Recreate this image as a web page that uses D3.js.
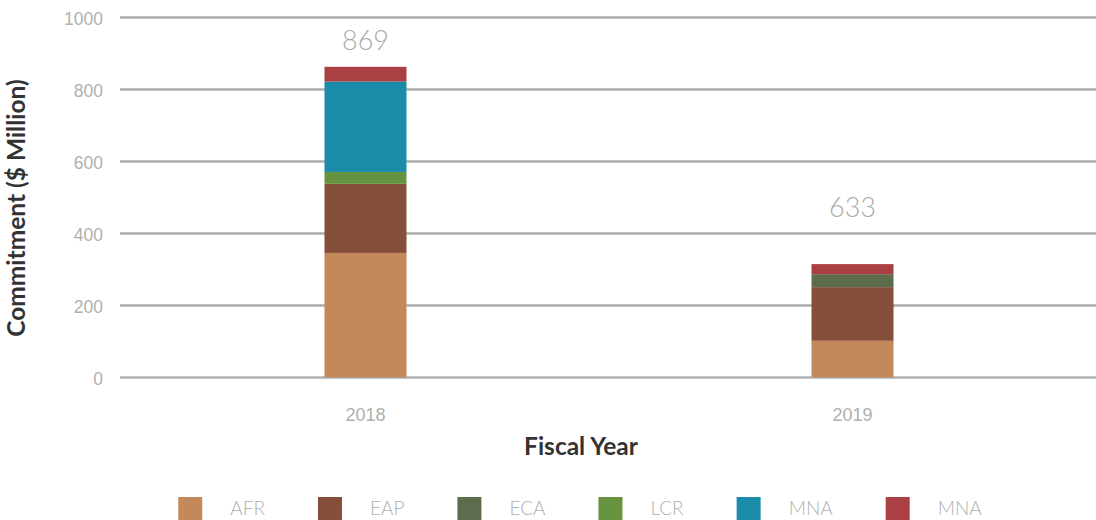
<!DOCTYPE html>
<html>
<head>
<meta charset="utf-8">
<script src="https://cdn.jsdelivr.net/npm/d3@7"></script>
<style>
  html, body { margin: 0; padding: 0; background: #fff; }
  svg { display: block; font-family: Lato, "Open Sans", sans-serif; }
</style>
</head>
<body>
<svg id="chart" width="1096" height="520"></svg>
<script>
// ---- data ----
const years = ["2018", "2019"];
const regions = ["AFR", "EAP", "ECA", "LCR", "MNA", "MNA2"];
const regionLabels = ["AFR", "EAP", "ECA", "LCR", "MNA", "MNA"];
const regionColors = ["#C4895B", "#854F3A", "#5E6C4E", "#66943E", "#1B8BAA", "#AA3F44"];
const afr  = [346, 102];
const eap  = [192, 149];
const eca  = [0, 36];
const lcr  = [33, 0];
const mna  = [251, 0];
const mna2 = [41, 28];
const totalLabels = ["869", "633"];
const totalLabelLevels = [910, 446];
const yTicks = [0, 200, 400, 600, 800, 1000];

// ---- build table ----
const seriesValues = [afr, eap, eca, lcr, mna, mna2];
const table = years.map((yr, i) => {
  const row = { year: yr };
  regions.forEach((r, k) => { row[r] = seriesValues[k][i]; });
  return row;
});

const svg = d3.select("#chart");
const W = 1096;
const plot = { left: 122, right: 1096, top: 17.5, bottom: 377.5 };

const x = d3.scaleBand().domain(years).range([plot.left, plot.right]).paddingInner(0).paddingOuter(0);
const y = d3.scaleLinear().domain([0, 1000]).range([plot.bottom, plot.top]);
const color = d3.scaleOrdinal().domain(regions).range(regionColors);

// gridlines
svg.append("g").selectAll("line").data(yTicks).join("line")
  .attr("x1", plot.left - 2).attr("x2", W)
  .attr("y1", d => y(d)).attr("y2", d => y(d))
  .attr("stroke", d => d === 0 ? "#AEB2B4" : "#ADADAD")
  .attr("stroke-width", 2.5);

// y axis labels
const yAxis = d3.axisLeft(y).tickValues(yTicks).tickSize(0).tickPadding(0).tickFormat(d3.format("d"));
const gy = svg.append("g").attr("transform", `translate(${103},0)`).call(yAxis);
gy.select(".domain").remove();
gy.selectAll("text").attr("fill", "#B0B0B0").style("font-size", "17.5px").style("font-weight", 300)
  .attr("dy", "0.4em");

// x axis labels
const xAxis = d3.axisBottom(x).tickSize(0).tickPadding(0);
const gx = svg.append("g").attr("transform", `translate(0,${404})`).call(xAxis);
gx.select(".domain").remove();
gx.selectAll("text").attr("fill", "#B0B0B0").style("font-size", "18px").style("font-weight", 300)
  .attr("dy", "0.95em");

// stacked bars
const stack = d3.stack().keys(regions);
const layers = stack(table);
const barW = 82;
svg.append("g").selectAll("g").data(layers).join("g")
  .attr("fill", d => color(d.key))
  .selectAll("rect").data(d => d).join("rect")
  .attr("x", d => x(d.data.year) + x.bandwidth() / 2 - barW / 2)
  .attr("width", barW)
  .attr("y", d => y(d[1]))
  .attr("height", d => Math.max(0, y(d[0]) - y(d[1])));

// total labels
svg.append("g").selectAll("text").data(years).join("text")
  .attr("x", d => x(d) + x.bandwidth() / 2)
  .attr("y", (d, i) => y(totalLabelLevels[i]))
  .attr("text-anchor", "middle")
  .attr("fill", "#A9A9A9")
  .style("font-size", "27px").style("font-weight", 300)
  .text((d, i) => totalLabels[i]);

// axis titles
svg.append("text")
  .attr("transform", `translate(${25},${208}) rotate(-90)`)
  .attr("text-anchor", "middle")
  .attr("fill", "#333333")
  .style("font-size", "24.5px").style("font-weight", 700)
  .text("Commitment ($ Million)");

svg.append("text")
  .attr("x", 581).attr("y", 455)
  .attr("text-anchor", "middle")
  .attr("fill", "#333333")
  .style("font-size", "24.5px").style("font-weight", 700)
  .text("Fiscal Year");

// legend
const legend = svg.append("g");
const items = legend.selectAll("g").data(regions).join("g");
items.append("rect").attr("width", 24).attr("height", 23).attr("y", 497)
  .attr("fill", d => color(d));
items.append("text").attr("x", 52).attr("y", 515)
  .attr("fill", "#B0B0B0").style("font-size", "19px").style("font-weight", 300)
  .text((d, i) => regionLabels[i]);
let cx = 0;
const offsets = [];
items.each(function () {
  offsets.push(cx);
  const tw = d3.select(this).select("text").node().getComputedTextLength();
  cx += 52 + tw + 53;
});
const totalW = cx - 53;
const startX = 580 - totalW / 2;
items.attr("transform", (d, i) => `translate(${startX + offsets[i]},0)`);
</script>
</body>
</html>
